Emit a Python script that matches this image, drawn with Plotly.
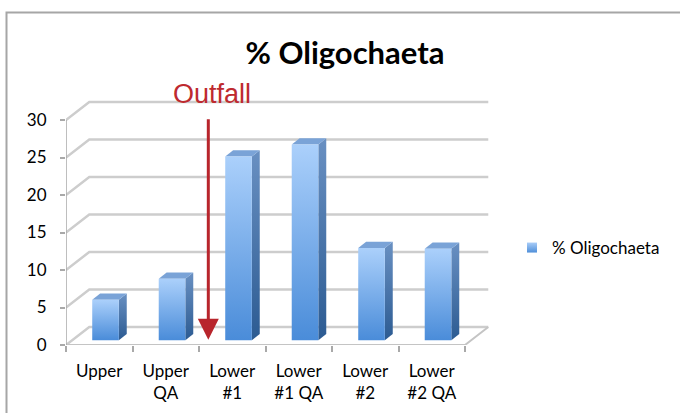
import plotly.graph_objects as go

# ---------------- data ----------------
categories = ["Upper", "Upper<br>QA", "Lower<br>#1", "Lower<br>#1 QA", "Lower<br>#2", "Lower<br>#2 QA"]
values = [5.4, 8.2, 24.5, 26.1, 12.3, 12.2]
series_name = "% Oligochaeta"
y_ticks = [0, 5, 10, 15, 20, 25, 30]

# ---------------- geometry (3-D look) ----------------
DX, DY = 0.35, 2.4          # depth offset of back wall (x in categories, y in value units)
W = 0.40                    # bar width (categories)
F0, F1 = 0.27, 0.61         # bar front/back depth fraction

L, R, T, B = 66, 190, 100, 68
W_PX, H_PX = 680, 413
plot_w = W_PX - L - R
plot_h = H_PX - T - B
px_per_cat = 66.5
px_per_unit = 7.5
x_range = [-0.5, -0.5 + plot_w / px_per_cat]
y_range = [0, plot_h / px_per_unit]

n = len(categories)
grid_col = "#cdcdcd"
axis_col = "#a9a9a9"


def px_x(p):
    return (p - L) / plot_w


def px_y(p):
    return (H_PX - B - p) / plot_h


fig = go.Figure()

# back wall + left wall gridlines
gx, gy = [], []
for v in y_ticks:
    gx += [-0.5, -0.5 + DX, n - 0.5 + DX, None]
    gy += [v, v + DY, v + DY, None]
fig.add_trace(go.Scatter(x=gx, y=gy, mode="lines", line=dict(color=grid_col, width=2.5),
                         hoverinfo="skip", showlegend=False, cliponaxis=False))

# floor front and right edges
fig.add_trace(go.Scatter(x=[-0.5, n - 0.5, n - 0.5 + DX], y=[0, 0, DY], mode="lines",
                         line=dict(color="#c4c4c4", width=2), hoverinfo="skip",
                         showlegend=False, cliponaxis=False))
# front vertical axis line
fig.add_trace(go.Scatter(x=[-0.5, -0.5], y=[0, y_ticks[-1]], mode="lines",
                         line=dict(color=axis_col, width=1.5), hoverinfo="skip",
                         showlegend=False, cliponaxis=False))

# bars
ddx, ddy = (F1 - F0) * DX, (F1 - F0) * DY
for i, v in enumerate(values):
    x0 = i - W / 2 + F0 * DX
    x1 = i + W / 2 + F0 * DX
    y0 = F0 * DY
    y1 = v + F0 * DY
    # side face
    fig.add_trace(go.Scatter(
        x=[x1, x1 + ddx, x1 + ddx, x1, x1], y=[y0, y0 + ddy, y1 + ddy, y1, y0],
        mode="lines", fill="toself", line=dict(width=0, color="#3e6fa6"),
        fillgradient=dict(type="vertical", colorscale=[[0, "#2c5b92"], [1, "#6990c2"]]),
        hoverinfo="skip", showlegend=False, cliponaxis=False))
    # top face
    fig.add_trace(go.Scatter(
        x=[x0, x1, x1 + ddx, x0 + ddx, x0], y=[y1, y1, y1 + ddy, y1 + ddy, y1],
        mode="lines", fill="toself", line=dict(width=0, color="#7aa3d7"),
        fillcolor="#7aa3d7", hoverinfo="skip", showlegend=False, cliponaxis=False))
    # front face
    fig.add_trace(go.Scatter(
        x=[x0, x1, x1, x0, x0], y=[y0, y0, y1, y1, y0],
        mode="lines", fill="toself", line=dict(width=0, color="#6fa6e8"),
        fillgradient=dict(type="vertical", colorscale=[[0, "#4a8cd9"], [1, "#abd0fb"]]),
        name=series_name, hoverinfo="skip", showlegend=False, cliponaxis=False))

# legend entry
fig.add_trace(go.Scatter(
    x=[None], y=[None], mode="markers", name=series_name,
    marker=dict(symbol="square", size=10, color="#a9cdf8",
                gradient=dict(type="vertical", color="#4f8fd9"))))

# Outfall arrow and label
arrow_x = 1.5 + 0.4 * DX
fig.add_annotation(x=arrow_x, y=0.7, ax=arrow_x, ay=30.3, xref="x", yref="y",
                   axref="x", ayref="y", text="", showarrow=True,
                   arrowhead=2, arrowsize=1.4, arrowwidth=3, arrowcolor="#b8252c")
fig.add_annotation(x=px_x(211.5), y=px_y(94), xref="paper", yref="paper",
                   text="Outfall", showarrow=False, xanchor="center", yanchor="middle",
                   font=dict(family="Liberation Sans, Arial", size=27, color="#be2a2f"))

# chart border
fig.add_shape(type="rect", xref="paper", yref="paper",
              x0=px_x(6.5), x1=px_x(700), y0=px_y(12.5), y1=px_y(430),
              line=dict(color="#a6a6a6", width=2), fillcolor="rgba(0,0,0,0)")

fig.update_layout(
    width=W_PX, height=H_PX,
    margin=dict(l=L, r=R, t=T, b=B, pad=0, autoexpand=False),
    paper_bgcolor="white", plot_bgcolor="white",
    font=dict(family="Lato, Liberation Sans, sans-serif", size=17, color="#000000"),
    title=dict(text=series_name, x=345 / W_PX, xanchor="center", xref="container",
               y=1 - 53 / H_PX, yanchor="middle", yref="container",
               font=dict(family="Lato, Liberation Sans, sans-serif", size=31,
                         color="#000000", weight=700)),
    xaxis=dict(range=x_range, tickmode="array", tickvals=list(range(n)),
               ticktext=categories, ticks="", showgrid=False, zeroline=False,
               showline=False, ticklabelstandoff=14, automargin=False,
               minor=dict(tickmode="array", tickvals=[k - 0.5 for k in range(n + 1)],
                          ticks="outside", ticklen=6, tickwidth=1.5, tickcolor=axis_col,
                          showgrid=False),
               fixedrange=True),
    yaxis=dict(range=y_range, tickmode="array", tickvals=y_ticks, ticks="outside",
               ticklen=5, tickwidth=1.5, tickcolor=axis_col, showgrid=False,
               zeroline=False, showline=False, ticklabelstandoff=10, automargin=False,
               fixedrange=True),
    legend=dict(x=px_x(512), y=px_y(248), xanchor="left", yanchor="middle",
                font=dict(size=17), itemwidth=30, bgcolor="rgba(0,0,0,0)"),
    showlegend=True,
)

fig.write_html("out.html", config={"displayModeBar": False},
               post_script="document.body.style.margin='0';")
